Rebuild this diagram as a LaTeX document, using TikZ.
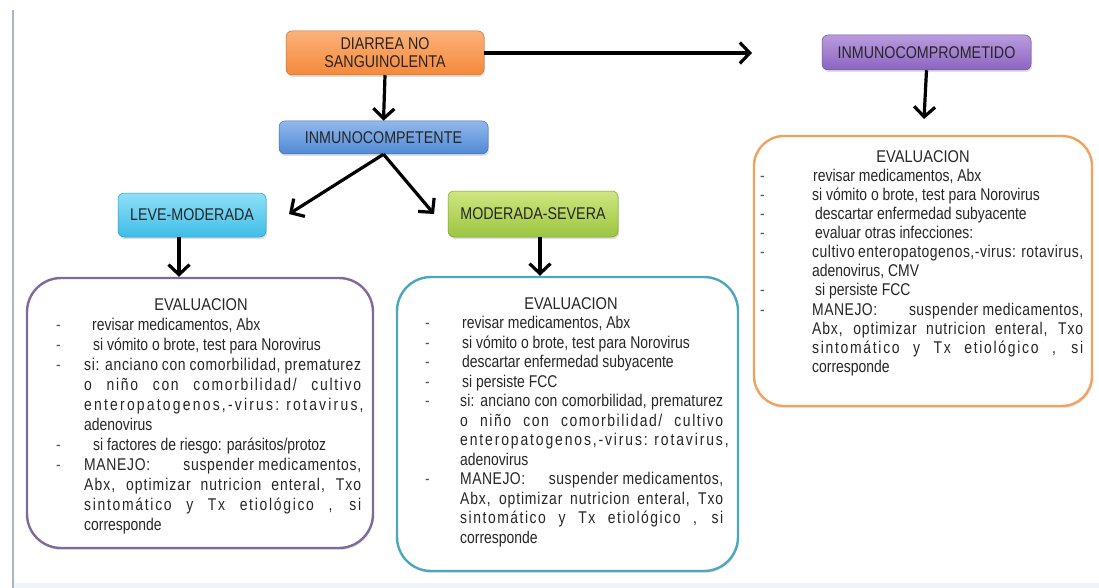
\documentclass[tikz,border=0pt]{standalone}
\usepackage{fontspec}
\setmainfont{Liberation Sans}
\newfontfamily\bodyf[FakeStretch=0.82]{Liberation Sans}
\newfontfamily\labf[FakeStretch=0.84]{Liberation Sans}
\newfontfamily\evalf[FakeStretch=0.86]{Liberation Sans}
\usetikzlibrary{arrows.meta,shadows}
\definecolor{txtc}{HTML}{262626}
\definecolor{dashc}{HTML}{555555}
\definecolor{orT}{HTML}{FBB27A}\definecolor{orB}{HTML}{F5893A}
\definecolor{blT}{HTML}{92B8EC}\definecolor{blB}{HTML}{5089D4}
\definecolor{puT}{HTML}{BA9BDF}\definecolor{puB}{HTML}{8C64C0}
\definecolor{cyT}{HTML}{8FE0F7}\definecolor{cyB}{HTML}{3FBDE8}
\definecolor{grT}{HTML}{CFE67F}\definecolor{grB}{HTML}{9CC540}
\definecolor{lboxc}{HTML}{7F6A9C}
\definecolor{mboxc}{HTML}{4AA7BC}
\definecolor{rboxc}{HTML}{F0A35E}
\definecolor{sidec}{HTML}{A9B4C4}
\definecolor{botc}{HTML}{EEF4FA}
\newlength\dashw
\newlength\textw
\newcommand\dsh{\hbox to \dashw{\textcolor{dashc}{-}\hss}}
\newcommand\itemN[2][0pt]{\hbox to \dimexpr\dashw+\textw\relax{\dsh\hspace*{#1}#2\hss}}
% justified lines: #1 = letter spacing (percent of em)
\newcommand\itemJ[2]{\hbox to \dimexpr\dashw+\textw\relax{\dsh\hbox to \textw{\addfontfeature{LetterSpace=#1}#2}}}
\newcommand\contJ[2]{\hbox to \dimexpr\dashw+\textw\relax{\hskip\dashw\hbox to \textw{\addfontfeature{LetterSpace=#1}#2}}}
\newcommand\contN[1]{\hbox to \dimexpr\dashw+\textw\relax{\hskip\dashw #1\hss}}
\newcommand\gap{\hskip 4pt plus 1fil\relax}
\begin{document}
\begin{tikzpicture}[x=1pt,y=-1pt,
  lab/.style={rounded corners=6pt, line width=0.5pt, text=txtc, align=center,
    inner sep=2pt, font=\labf\fontsize{17}{18}\selectfont,
    drop shadow={shadow xshift=1.2pt,shadow yshift=-2pt,opacity=0.25}},
  obox/.style={rounded corners=34pt, line width=2.4pt, fill=white,
    drop shadow={shadow xshift=1pt,shadow yshift=-2pt,opacity=0.2}},
  evl/.style={font=\evalf\fontsize{17}{18}\selectfont, text=txtc, inner sep=0pt, anchor=base},
  body/.style={font=\bodyf\fontsize{17}{20}\selectfont, text=txtc, inner sep=0pt, anchor=base west},
  arr/.style={line width=3.2pt, -{Straight Barb[length=10pt,width=21pt]}}
]
\useasboundingbox (0,0) rectangle (1099,588);
\fill[white] (0,0) rectangle (1099,588);
\fill[botc] (14,583) rectangle (1099,588);
\draw[sidec, line width=2.6pt] (13,10) -- (13,588);

% coloured label boxes
\node[lab, draw=orB!80!black, top color=orT, bottom color=orB,
  minimum width=198pt, minimum height=44pt] (diar) at (385,53) {DIARREA NO\\SANGUINOLENTA};
\node[lab, draw=blB!80!black, top color=blT, bottom color=blB,
  minimum width=209pt, minimum height=33pt] (ic) at (383.5,137.5) {INMUNOCOMPETENTE};
\node[lab, draw=puB!80!black, top color=puT, bottom color=puB,
  minimum width=209pt, minimum height=35pt] (icomp) at (926.5,52.5) {INMUNOCOMPROMETIDO};
\node[lab, draw=cyB!80!black, top color=cyT, bottom color=cyB,
  minimum width=148pt, minimum height=44pt] (leve) at (192,215) {LEVE-MODERADA};
\node[lab, draw=grB!80!black, top color=grT, bottom color=grB,
  minimum width=170pt, minimum height=46pt] (ms) at (533,214) {MODERADA-SEVERA};

% outline boxes
\node[obox, draw=lboxc, minimum width=346pt, minimum height=270pt] (lbox) at (200,413) {};
\node[obox, draw=mboxc, minimum width=341pt, minimum height=294pt] (mbox) at (567.5,424) {};
\node[obox, draw=rboxc, rounded corners=30pt, minimum width=338pt, minimum height=270pt] (rbox) at (923,271) {};

% free arrow ends
\coordinate (rtip) at (752,53);
\coordinate (ltip) at (289,214);
\coordinate (mtip) at (434,214);
\coordinate (ctip) at (924,119);

\draw[arr] (diar.east) -- (rtip);
\draw[arr] (diar.south) -- (ic.north);
\draw[arr] (ic.south) -- (ltip);
\draw[arr] (ic.south) -- (mtip);
\draw[arr] (icomp.south) -- (ctip);
\draw[arr] ([xshift=-13pt]leve.south) -- ([xshift=-21pt]lbox.north);
\draw[arr] ([xshift=7pt]ms.south) -- ([xshift=-27.5pt]mbox.north);

% left box text
\node[evl] (levl) at (201,310) {EVALUACION};
\node[body] (ltxt) at (56,330) {\vtop{\lineskiplimit=-\maxdimen\baselineskip=20pt
  \dashw=28pt \textw=277pt
  \itemN[8pt]{revisar medicamentos, Abx}
  \itemN[9pt]{si vómito o brote, test para Norovirus}
  \itemJ{4}{si: anciano con comorbilidad, prematurez}
  \contJ{10}{o niño con comorbilidad/ cultivo}
  \contJ{13}{enteropatogenos,-virus: rotavirus,}
  \contN{adenovirus}
  \itemN[9pt]{si factores de riesgo: parásitos/protoz}
  \itemJ{4}{MANEJO:\gap suspender medicamentos,}
  \contJ{6}{Abx, optimizar nutricion enteral, Txo}
  \contJ{10}{sintomático y Tx etiológico , si}
  \contN{corresponde}}};

% middle box text
\node[evl] (mevl) at (571,309) {EVALUACION};
\node[body] (mtxt) at (425,328.5) {\vtop{\lineskiplimit=-\maxdimen\baselineskip=19.5pt
  \dashw=35pt \textw=263pt
  \itemN[2pt]{revisar medicamentos, Abx}
  \itemN[2pt]{si vómito o brote, test para Norovirus}
  \itemN[2pt]{descartar enfermedad subyacente}
  \itemN[2pt]{si persiste FCC}
  \itemJ{1}{si: anciano con comorbilidad, prematurez}
  \contJ{9}{o niño con comorbilidad/ cultivo}
  \contJ{11}{enteropatogenos,-virus: rotavirus,}
  \contN{adenovirus}
  \itemJ{3}{MANEJO:\gap suspender medicamentos,}
  \contJ{5}{Abx, optimizar nutricion enteral, Txo}
  \contJ{9}{sintomático y Tx etiológico , si}
  \contN{corresponde}}};

% right box text
\node[evl] (revl) at (923,163) {EVALUACION};
\node[body] (rtxt) at (760,182) {\vtop{\lineskiplimit=-\maxdimen\baselineskip=19pt
  \dashw=52pt \textw=271pt
  \itemN[1pt]{revisar medicamentos, Abx}
  \itemN[0pt]{si vómito o brote, test para Norovirus}
  \itemN[3pt]{descartar enfermedad subyacente}
  \itemN[3pt]{evaluar otras infecciones:}
  \itemJ{3}{cultivo enteropatogenos,-virus: rotavirus,}
  \contN{adenovirus, CMV}
  \itemN[3pt]{si persiste FCC}
  \itemJ{3}{MANEJO:\gap suspender medicamentos,}
  \contJ{5}{Abx, optimizar nutricion enteral, Txo}
  \contJ{10}{sintomático y Tx etiológico , si}
  \contN{corresponde}}};
\end{tikzpicture}
\end{document}
